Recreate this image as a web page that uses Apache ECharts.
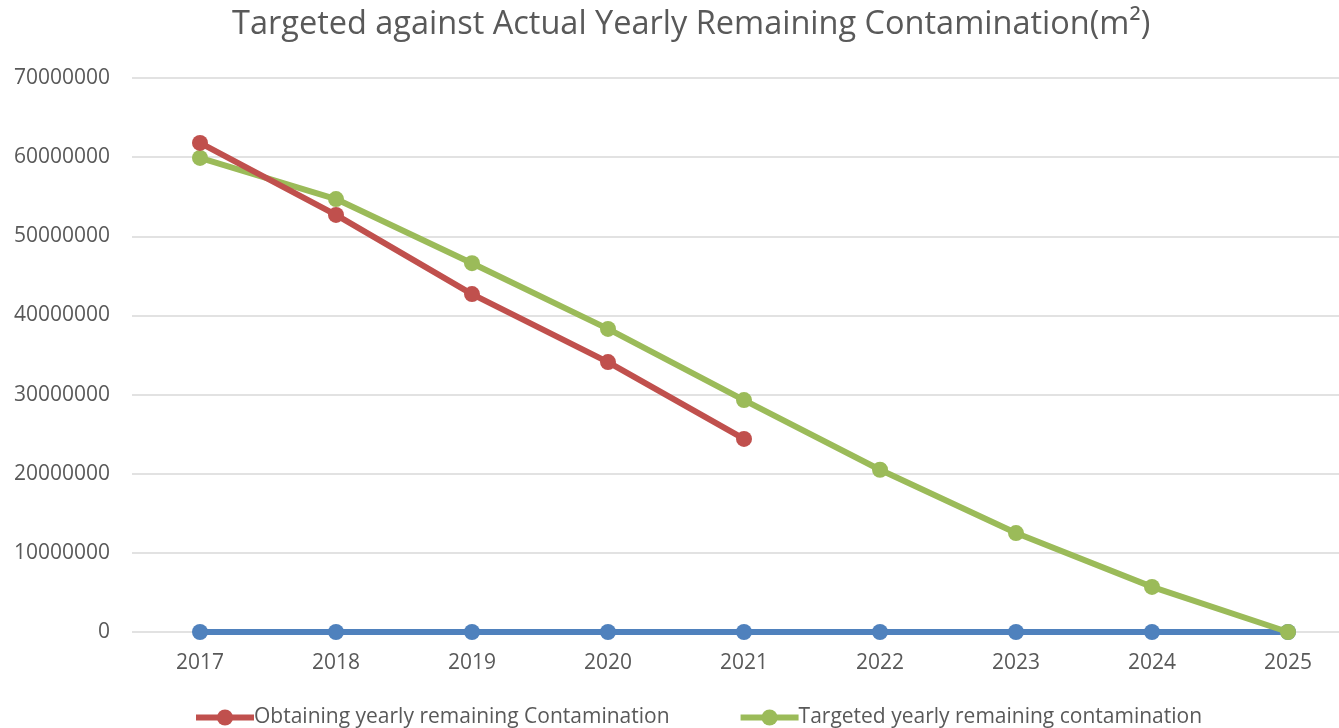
<!DOCTYPE html>
<html>
<head>
<meta charset="utf-8">
<script src="https://cdn.jsdelivr.net/npm/echarts@6/dist/echarts.min.js"></script>
<style>
  html, body { margin: 0; padding: 0; background: #fff; overflow: hidden; }
  /* wider than the window: the plot runs past the right edge, like the original crop */
  #chart { width: 1356px; height: 728px; }
</style>
</head>
<body>
<div id="chart"></div>
<script>
// years on the x axis
const years = ['2017', '2018', '2019', '2020', '2021', '2022', '2023', '2024', '2025']

// actual remaining contamination (m2), only up to 2021
const obtaining = [61800000, 52700000, 42700000, 34100000, 24400000]
// target remaining contamination (m2)
const targeted = [59900000, 54700000, 46600000, 38300000, 29300000, 20500000, 12500000, 5700000, 0]
// flat blue series sitting on zero
const baseline = [0, 0, 0, 0, 0, 0, 0, 0, 0]

const textColor = '#595959'
const font = 'Open Sans'

const chart = echarts.init(document.getElementById('chart'))
chart.setOption({
  animation: false,
  textStyle: { fontFamily: font },
  title: {
    text: 'Targeted against Actual Yearly Remaining Contamination(m²)',
    left: 227,
    top: 3,
    textStyle: { fontFamily: font, fontSize: 32.5, fontWeight: 'normal', color: textColor }
  },
  grid: { left: 132, right: 0, top: 78, bottom: 96 },
  legend: {
    bottom: -5,
    left: 188,
    itemWidth: 58,
    itemHeight: 20,
    itemGap: 68,
    lineStyle: { width: 6 },
    data: ['Obtaining yearly remaining Contamination', 'Targeted yearly remaining contamination'],
    textStyle: { fontFamily: font, fontSize: 21, color: textColor, padding: [0, 0, 0, -5] }
  },
  xAxis: {
    type: 'category',
    data: years,
    axisLine: { show: false },
    axisTick: { show: false },
    axisLabel: { fontSize: 21, color: textColor, margin: 21 }
  },
  yAxis: {
    type: 'value',
    min: 0,
    max: 70000000,
    interval: 10000000,
    axisLabel: { fontSize: 21, color: textColor, margin: 22, formatter: v => String(v) },
    splitLine: { lineStyle: { color: '#d9d9d9', width: 1.5 } }
  },
  series: [
    {
      name: 'Baseline',
      type: 'line',
      data: baseline,
      color: '#4f81bd',
      lineStyle: { width: 6 },
      symbol: 'circle',
      symbolSize: 16,
      z: 2
    },
    {
      name: 'Targeted yearly remaining contamination',
      type: 'line',
      data: targeted,
      color: '#9bbb59',
      lineStyle: { width: 6 },
      symbol: 'circle',
      symbolSize: 16,
      z: 3
    },
    {
      name: 'Obtaining yearly remaining Contamination',
      type: 'line',
      data: obtaining,
      color: '#c0504d',
      lineStyle: { width: 6 },
      symbol: 'circle',
      symbolSize: 16,
      z: 4
    }
  ]
})
</script>
</body>
</html>
